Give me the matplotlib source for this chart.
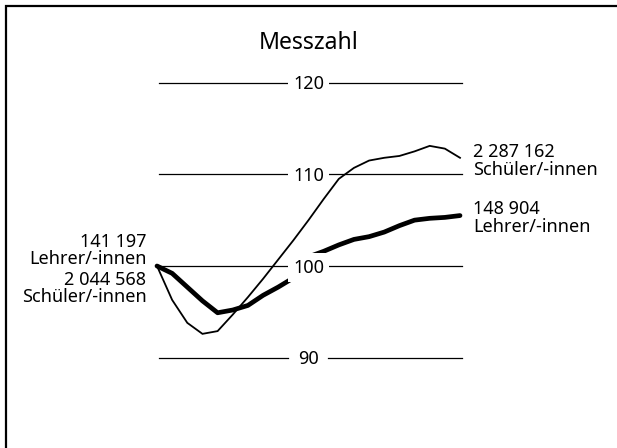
import matplotlib
matplotlib.use("Agg")
import matplotlib.pyplot as plt
from matplotlib.patches import Rectangle

plt.rcParams['font.family'] = ['Noto Sans', 'DejaVu Sans']

# ---- data (index numbers, start = 100) ----
periods = list(range(21))
schueler = [100.0, 96.3, 93.8, 92.6, 92.9, 94.7, 96.6, 98.6, 100.7, 102.8, 105.0,
            107.3, 109.5, 110.7, 111.5, 111.8, 112.0, 112.5, 113.1, 112.8, 111.8]
lehrer = [100.0, 99.2, 97.7, 96.2, 94.9, 95.2, 95.7, 96.8, 97.7, 98.7, 101.0,
          101.6, 102.3, 102.9, 103.2, 103.7, 104.4, 105.0, 105.2, 105.3, 105.5]
grid_levels = [90, 100, 110, 120]
title = "Messzahl"
start_lehrer = "141 197\nLehrer/-innen"
start_schueler = "2 044 568\nSchüler/-innen"
end_schueler = "2 287 162\nSchüler/-innen"
end_lehrer = "148 904\nLehrer/-innen"

W, H = 617, 448
fig = plt.figure(figsize=(W / 100, H / 100), dpi=100)
fig.patch.set_facecolor("white")

# axes placed so that period 0 -> x=157px, period 20 -> x=460px; 90 -> y=357.7, 120 -> y=82.6
ax = fig.add_axes([157 / W, (H - 357.7) / H, 303 / W, 275.1 / H])
ax.set_xlim(0, 20)
ax.set_ylim(90, 120)
ax.axis("off")

px = 303 / 20.0  # pixels per period
fs = 13
pt = 72 / 100.0  # points per pixel
ls = 0.94

# grid lines with a gap for the label
gap_l = (288 - 157) / px
gap_r = (328 - 157) / px
center = (308.5 - 157) / px
for lv in grid_levels:
    ax.plot([0.1, gap_l], [lv, lv], color="black", lw=0.9, clip_on=False, zorder=1)
    ax.plot([gap_r, 20.1], [lv, lv], color="black", lw=0.9, clip_on=False, zorder=1)

# thin line drawn above the label boxes, thick line below them
ax.plot(periods, schueler, color="black", lw=1.3, clip_on=False, zorder=6,
        solid_joinstyle="miter")
ax.plot(periods, lehrer, color="black", lw=3.4, clip_on=False, zorder=3,
        solid_capstyle="round")

for lv in grid_levels:
    ax.annotate(str(lv), (center, lv), xytext=(0, -6.6 * pt), textcoords="offset points",
                ha="center", va="baseline", fontsize=fs, zorder=5,
                bbox=dict(boxstyle="square,pad=0.3", fc="white", ec="none"))


def label(x, y, text, dx, dy, ha):
    # dy: pixel offset (downwards) of the last line's baseline
    ax.annotate(text, (x, y), xytext=(dx * pt, -dy * pt), textcoords="offset points",
                ha=ha, va="baseline", fontsize=fs, linespacing=ls, annotation_clip=False)


# start labels (left of first point)
label(0, schueler[0], start_lehrer, -10.5, -1.7, "right")
label(0, schueler[0], start_schueler, -10.5, 35.7, "right")
# end labels
label(20, schueler[-1], end_schueler, 13, 16.8, "left")
label(20, lehrer[-1], end_lehrer, 13, 16.0, "left")

fig.text(308.8 / W, 1 - 49 / H, title, ha="center", va="baseline", fontsize=16.6)

# outer frame (right and bottom edges lie outside the picture)
fig.patches.append(Rectangle((6 / W, -0.1), 1.2, 1 - 6 / H + 0.1, transform=fig.transFigure,
                             fill=False, ec="black", lw=1.6, figure=fig))

fig.savefig("out.png", dpi=100)
